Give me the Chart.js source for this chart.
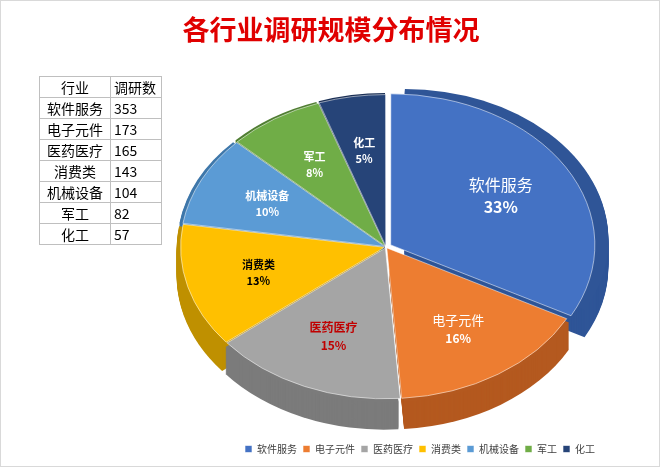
<!DOCTYPE html>
<html><head><meta charset="utf-8">
<script src="https://cdn.jsdelivr.net/npm/chart.js@4"></script>
<style>
html,body{margin:0;padding:0;background:#fff;}
#wrap{position:relative;width:660px;height:467px;box-sizing:border-box;border:1px solid #d9d9d9;font-family:"Noto Sans CJK SC",sans-serif;}
#title{position:absolute;left:0;top:8px;width:660px;text-align:center;color:#e00000;font-size:27px;font-weight:bold;}
table{position:absolute;left:38px;top:75px;border-collapse:collapse;font-size:14px;color:#000;}
td{border:1px solid #bfbfbf;height:20px;padding:0 3px;line-height:20px;}
td:first-child{width:64px;text-align:center;}
td:last-child{width:44px;text-align:left;}
canvas{position:absolute;left:0;top:0;}
</style></head><body>
<div id="wrap">
<canvas id="c" width="660" height="467"></canvas>
<div id="title">各行业调研规模分布情况</div>
<table id="tb"></table>
</div>
<script>
const categories=["软件服务","电子元件","医药医疗","消费类","机械设备","军工","化工"];
const values=[353,173,165,143,104,82,57];
const colors=["#4472C4","#ED7D31","#A5A5A5","#FFC000","#5B9BD5","#70AD47","#264478"];
const dark=["#2F5597","#B4591F","#7B7B7B","#BF9000","#3E77AA","#507E32","#1A2F55"];
const labelColors=["#fff","#fff","#C00000","#000","#fff","#fff","#fff"];
const offsets=[22,6,6,6,6,6,6];
const tb=document.getElementById('tb');
tb.innerHTML='<tr><td>行业</td><td>调研数</td></tr>'+categories.map((c,i)=>`<tr><td>${c}</td><td>${values[i]}</td></tr>`).join('');
const SY=0.74, CY=246, DEPTH=28;
const total=values.reduce((a,b)=>a+b,0);
const tilt={id:'tilt',
beforeDatasetsDraw(ch){const ctx=ch.ctx;const m=ch.getDatasetMeta(0);const el0=m.data[0];const cy=el0.y;
 ctx.save();ctx.translate(0,CY);ctx.scale(1,SY);ctx.translate(0,-cy);
 for(let d=DEPTH;d>=1;d--){m.data.forEach((el,i)=>{const mid=(el.startAngle+el.endAngle)/2;const ox=Math.cos(mid)*offsets[i],oy=Math.sin(mid)*offsets[i];
  ctx.fillStyle=dark[i];ctx.beginPath();ctx.moveTo(el.x+ox,el.y+oy+d/SY);ctx.arc(el.x+ox,el.y+oy+d/SY,el.outerRadius,el.startAngle,el.endAngle);ctx.closePath();ctx.fill();});}
},
afterDatasetsDraw(ch){const ctx=ch.ctx;ctx.restore();const m=ch.getDatasetMeta(0);
 m.data.forEach((el,i)=>{const mid=(el.startAngle+el.endAngle)/2;const r=el.outerRadius*(i==0?0.55:0.62)+offsets[i];
  const x=el.x+Math.cos(mid)*r;const y=CY+(Math.sin(mid)*r)*SY;
  ctx.fillStyle=labelColors[i];ctx.textAlign='center';ctx.textBaseline='middle';
  ctx.font=(i==0?'16px':i==1?'13px':'bold 11px')+' "Noto Sans CJK SC"';
  if(i==2)ctx.font='bold 12px "Noto Sans CJK SC"';
  const fs=i==0?11:(i<3?9:8);
  ctx.fillText(categories[i],x,y-fs);
  ctx.font='bold '+(i==0?'16px':i<3?'12px':'11px')+' "Noto Sans CJK SC"';
  ctx.fillText(Math.round(values[i]/total*100)+'%',x,y+fs);});
}};
new Chart(document.getElementById('c'),{type:'pie',
data:{labels:categories,datasets:[{data:values,backgroundColor:colors,offset:offsets,borderColor:'rgba(255,255,255,0.6)',borderWidth:1}]},
options:{responsive:false,animation:false,
 layout:{padding:{left:170,right:60,top:4,bottom:4}},
 plugins:{tooltip:{enabled:false},legend:{position:'bottom',align:'end',labels:{boxWidth:7,boxHeight:7,padding:6,color:'#404040',font:{size:10,family:'"Noto Sans CJK SC"'}}}}},
plugins:[tilt]});
</script>
</body></html>
